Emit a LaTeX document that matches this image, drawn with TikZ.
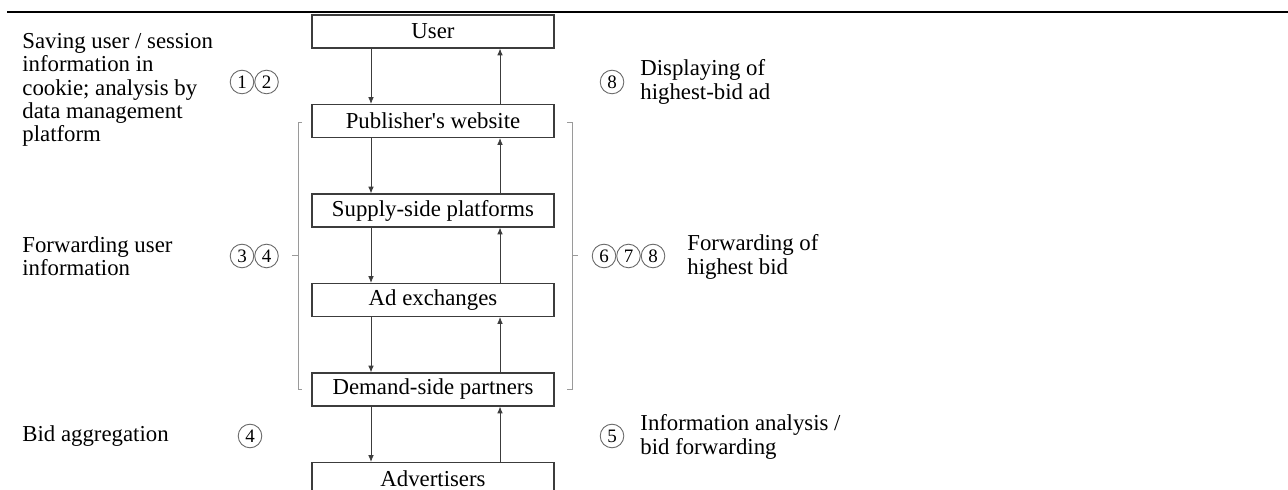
\documentclass[tikz,border=0pt]{standalone}
\usepackage{fontspec}
\setmainfont{Liberation Serif}
\usepackage{xcolor}
\usetikzlibrary{arrows.meta,positioning}

\definecolor{boxline}{HTML}{3C3C3C}
\definecolor{brk}{HTML}{9A9A9A}
\definecolor{numline}{HTML}{6A6A6A}

\tikzset{
  txt/.style={font=\fontsize{11.4}{11.6}\selectfont},
  box/.style={txt,draw=boxline,line width=0.55pt,minimum width=121pt,minimum height=16.5pt,inner sep=0pt},
  lbl/.style={txt,align=left,anchor=west,inner sep=0pt},
  numc/.style={circle,draw=numline,line width=0.45pt,minimum size=11.8pt,inner sep=0pt,
    font=\fontsize{9.5}{9.5}\selectfont},
  flow/.style={draw=boxline,line width=0.4pt,-{Latex[length=3.4pt,width=2.8pt]}},
}

\begin{document}
\begin{tikzpicture}[x=0.5pt,y=-0.5pt]
  \useasboundingbox (0,0) rectangle (1288,490);
  \clip (0,0) rectangle (1288,490);
  \draw[line width=1pt] (7,12)--(1288,12);
  % chain of boxes
  \foreach \n/\t [count=\i] in {user/User,pub/Publisher\textquotesingle s website,ssp/Supply-side platforms,
      adx/Ad exchanges,dsp/Demand-side partners,adv/Advertisers}
    \node[box] (\n) at (433,{31.5+89.5*(\i-1)}) {\t};
  \foreach \a/\b in {user/pub,pub/ssp,ssp/adx,adx/dsp,dsp/adv} {
    \draw[flow] ([xshift=-31pt]\a.south) -- ([xshift=-31pt]\b.north);
    \draw[flow] ([xshift=33.5pt]\b.north) -- ([xshift=33.5pt]\a.south);
  }
  % brackets
  \draw[brk,line width=0.5pt] (302,123)--(298,123)--(298,390)--(302,390);
  \draw[brk,line width=0.5pt] (298,256)--(292,256);
  \draw[brk,line width=0.5pt] (567,123)--(572,123)--(572,390)--(567,390);
  \draw[brk,line width=0.5pt] (572,256)--(578,256);
  % left side
  \node[lbl] (saving) at (22,90) {Saving user / session\\information in\\cookie; analysis by\\data management\\platform};
  \node[numc] (s1) at (242,82) {1};
  \node[numc,right=0pt of s1] (s2) {2};
  \node[lbl] (fwduser) at (22,256) {Forwarding user\\information};
  \node[numc] (s3) at (242,256) {3};
  \node[numc,right=0pt of s3] (s4) {4};
  \node[lbl] (bidagg) at (22,436) {Bid aggregation};
  \node[numc] (s4b) at (250,436) {4};
  % right side
  \node[numc] (s8) at (612,82) {8};
  \node[lbl] (display) at (640,82) {Displaying of\\highest-bid ad};
  \node[numc] (s6) at (604,256) {6};
  \node[numc,right=0pt of s6] (s7) {7};
  \node[numc,right=0pt of s7] (s8b) {8};
  \node[lbl] (fwdbid) at (687,257) {Forwarding of\\highest bid};
  \node[numc] (s5) at (612,436) {5};
  \node[lbl] (analysis) at (640,437) {Information analysis /\\bid forwarding};
\end{tikzpicture}
\end{document}
